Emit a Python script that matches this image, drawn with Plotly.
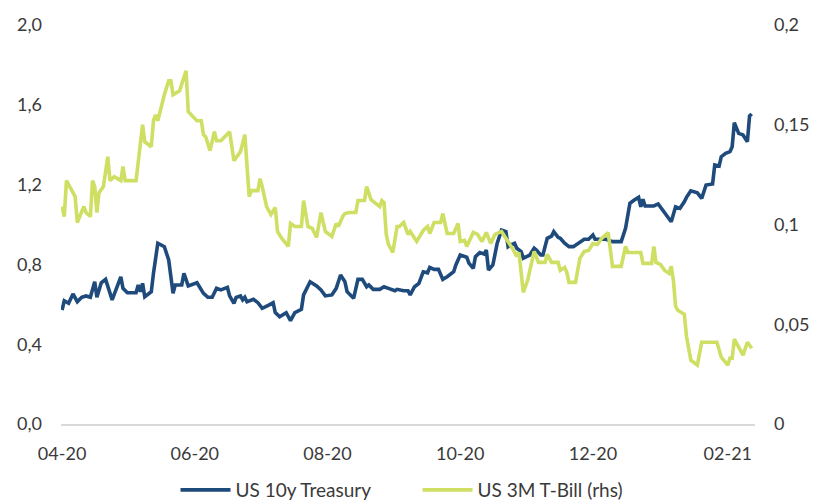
import plotly.graph_objects as go

# ---------------- data ----------------
t10_dates = [
    "2020-04-01", "2020-04-02", "2020-04-04", "2020-04-06", "2020-04-08", "2020-04-10", "2020-04-12",
    "2020-04-14", "2020-04-16", "2020-04-17", "2020-04-19", "2020-04-21", "2020-04-24", "2020-04-28",
    "2020-04-29", "2020-05-01", "2020-05-05", "2020-05-06", "2020-05-07", "2020-05-08", "2020-05-09",
    "2020-05-12", "2020-05-13", "2020-05-15", "2020-05-18", "2020-05-20", "2020-05-22", "2020-05-23",
    "2020-05-26", "2020-05-27", "2020-05-29", "2020-06-02", "2020-06-05", "2020-06-07", "2020-06-09",
    "2020-06-11", "2020-06-13", "2020-06-16", "2020-06-17", "2020-06-19", "2020-06-20", "2020-06-22",
    "2020-06-23", "2020-06-24", "2020-06-25", "2020-06-28", "2020-06-30", "2020-07-02", "2020-07-05",
    "2020-07-07", "2020-07-08", "2020-07-10", "2020-07-13", "2020-07-15", "2020-07-17", "2020-07-20",
    "2020-07-21", "2020-07-24", "2020-07-27", "2020-07-29", "2020-07-31", "2020-08-03", "2020-08-05",
    "2020-08-07", "2020-08-09", "2020-08-10", "2020-08-13", "2020-08-15", "2020-08-17", "2020-08-19",
    "2020-08-20", "2020-08-22", "2020-08-25", "2020-08-27", "2020-08-29", "2020-09-01", "2020-09-02",
    "2020-09-05", "2020-09-07", "2020-09-08", "2020-09-10", "2020-09-12", "2020-09-14", "2020-09-16",
    "2020-09-17", "2020-09-19", "2020-09-21", "2020-09-23", "2020-09-25", "2020-09-28", "2020-09-29",
    "2020-10-01", "2020-10-04", "2020-10-05", "2020-10-07", "2020-10-08", "2020-10-10", "2020-10-12",
    "2020-10-13", "2020-10-14", "2020-10-16", "2020-10-18", "2020-10-20", "2020-10-22", "2020-10-23",
    "2020-10-24", "2020-10-26", "2020-10-27", "2020-10-29", "2020-10-30", "2020-11-02", "2020-11-04",
    "2020-11-05", "2020-11-07", "2020-11-08", "2020-11-10", "2020-11-12", "2020-11-13", "2020-11-15",
    "2020-11-16", "2020-11-18", "2020-11-20", "2020-11-22", "2020-11-25", "2020-11-27", "2020-11-29",
    "2020-12-01", "2020-12-02", "2020-12-05", "2020-12-07", "2020-12-10", "2020-12-14", "2020-12-16",
    "2020-12-17", "2020-12-18", "2020-12-20", "2020-12-22", "2020-12-23", "2020-12-24", "2020-12-25",
    "2020-12-29", "2020-12-31", "2021-01-02", "2021-01-04", "2021-01-06", "2021-01-08", "2021-01-10",
    "2021-01-12", "2021-01-13", "2021-01-15", "2021-01-18", "2021-01-20", "2021-01-21", "2021-01-22",
    "2021-01-25", "2021-01-26", "2021-01-28", "2021-01-29", "2021-01-31", "2021-02-02", "2021-02-03",
    "2021-02-04", "2021-02-06", "2021-02-08", "2021-02-10", "2021-02-11", "2021-02-12",
]
t10_vals = [
    0.571, 0.618, 0.605, 0.652, 0.613, 0.635, 0.642,
    0.635, 0.713, 0.635, 0.708, 0.725, 0.622, 0.738,
    0.680, 0.658, 0.658, 0.697, 0.663, 0.705, 0.638,
    0.663, 0.755, 0.906, 0.889, 0.822, 0.655, 0.697,
    0.697, 0.755, 0.692, 0.708, 0.655, 0.635, 0.635,
    0.680, 0.672, 0.685, 0.642, 0.605, 0.635, 0.642,
    0.622, 0.635, 0.613, 0.625, 0.608, 0.580, 0.596,
    0.608, 0.558, 0.538, 0.558, 0.518, 0.558, 0.575,
    0.647, 0.713, 0.692, 0.672, 0.642, 0.647, 0.680,
    0.747, 0.713, 0.663, 0.630, 0.725, 0.725, 0.688,
    0.697, 0.675, 0.675, 0.688, 0.680, 0.668, 0.675,
    0.668, 0.668, 0.647, 0.688, 0.705, 0.763, 0.758,
    0.785, 0.775, 0.775, 0.725, 0.738, 0.763, 0.797,
    0.847, 0.836, 0.806, 0.780, 0.839, 0.859, 0.852,
    0.872, 0.772, 0.797, 0.906, 0.972, 0.964, 0.889,
    0.897, 0.906, 0.881, 0.864, 0.831, 0.847, 0.881,
    0.872, 0.847, 0.847, 0.931, 0.942, 0.964, 0.936,
    0.931, 0.906, 0.889, 0.889, 0.914, 0.926, 0.926,
    0.947, 0.926, 0.926, 0.926, 0.914, 0.914, 0.981,
    1.056, 1.106, 1.123, 1.136, 1.089, 1.126, 1.093,
    1.093, 1.103, 1.073, 1.039, 1.014, 1.089, 1.081,
    1.114, 1.136, 1.169, 1.159, 1.131, 1.173, 1.198,
    1.203, 1.298, 1.293, 1.340, 1.357, 1.365, 1.390,
    1.510, 1.457, 1.449, 1.415, 1.544, 1.554,
]

tbill_dates = [
    "2020-04-01", "2020-04-02", "2020-04-03", "2020-04-05", "2020-04-07", "2020-04-08", "2020-04-11",
    "2020-04-12", "2020-04-14", "2020-04-15", "2020-04-16", "2020-04-17", "2020-04-18", "2020-04-20",
    "2020-04-22", "2020-04-23", "2020-04-25", "2020-04-28", "2020-04-29", "2020-04-30", "2020-05-05",
    "2020-05-08", "2020-05-09", "2020-05-12", "2020-05-13", "2020-05-14", "2020-05-15", "2020-05-18",
    "2020-05-20", "2020-05-21", "2020-05-22", "2020-05-25", "2020-05-28", "2020-05-29", "2020-05-31",
    "2020-06-02", "2020-06-04", "2020-06-05", "2020-06-06", "2020-06-08", "2020-06-10", "2020-06-11",
    "2020-06-13", "2020-06-17", "2020-06-19", "2020-06-22", "2020-06-24", "2020-06-26", "2020-06-27",
    "2020-06-30", "2020-07-01", "2020-07-02", "2020-07-04", "2020-07-06", "2020-07-08", "2020-07-09",
    "2020-07-11", "2020-07-14", "2020-07-15", "2020-07-17", "2020-07-20", "2020-07-21", "2020-07-23",
    "2020-07-25", "2020-07-27", "2020-07-29", "2020-07-31", "2020-08-03", "2020-08-05", "2020-08-06",
    "2020-08-08", "2020-08-09", "2020-08-11", "2020-08-14", "2020-08-15", "2020-08-18", "2020-08-19",
    "2020-08-20", "2020-08-21", "2020-08-25", "2020-08-26", "2020-08-27", "2020-08-28", "2020-08-29",
    "2020-08-31", "2020-09-02", "2020-09-03", "2020-09-05", "2020-09-07", "2020-09-08", "2020-09-11",
    "2020-09-14", "2020-09-16", "2020-09-17", "2020-09-19", "2020-09-22", "2020-09-23", "2020-09-25",
    "2020-09-28", "2020-09-30", "2020-10-01", "2020-10-03", "2020-10-04", "2020-10-07", "2020-10-09",
    "2020-10-11", "2020-10-13", "2020-10-15", "2020-10-17", "2020-10-20", "2020-10-23", "2020-10-25",
    "2020-10-27", "2020-10-28", "2020-10-30", "2020-11-01", "2020-11-02", "2020-11-04", "2020-11-06",
    "2020-11-09", "2020-11-10", "2020-11-12", "2020-11-15", "2020-11-16", "2020-11-18", "2020-11-19",
    "2020-11-20", "2020-11-23", "2020-11-25", "2020-11-27", "2020-11-29", "2020-12-01", "2020-12-03",
    "2020-12-05", "2020-12-08", "2020-12-10", "2020-12-14", "2020-12-16", "2020-12-17", "2020-12-23",
    "2020-12-24", "2020-12-28", "2020-12-29", "2020-12-30", "2021-01-01", "2021-01-03", "2021-01-05",
    "2021-01-06", "2021-01-07", "2021-01-08", "2021-01-09", "2021-01-12", "2021-01-13", "2021-01-15",
    "2021-01-18", "2021-01-20", "2021-01-27", "2021-01-29", "2021-02-01", "2021-02-02", "2021-02-03",
    "2021-02-04", "2021-02-06", "2021-02-08", "2021-02-10", "2021-02-11", "2021-02-12",
]
tbill_vals = [
    0.109, 0.104, 0.122, 0.118, 0.114, 0.101, 0.109,
    0.106, 0.104, 0.122, 0.119, 0.106, 0.116, 0.119,
    0.134, 0.122, 0.124, 0.122, 0.129, 0.122, 0.122,
    0.150, 0.1415, 0.139, 0.152, 0.155, 0.152, 0.165,
    0.172, 0.172, 0.165, 0.167, 0.177, 0.1565, 0.154,
    0.152, 0.152, 0.145, 0.144, 0.137, 0.1465, 0.142,
    0.142, 0.1465, 0.132, 0.1365, 0.145, 0.114, 0.117,
    0.117, 0.123, 0.119, 0.109, 0.105, 0.1085, 0.0965,
    0.093, 0.089, 0.1005, 0.099, 0.099, 0.112, 0.099,
    0.098, 0.0935, 0.106, 0.0965, 0.094, 0.1005, 0.099,
    0.104, 0.1055, 0.106, 0.106, 0.112, 0.112, 0.119,
    0.115, 0.1125, 0.109, 0.112, 0.111, 0.095, 0.090,
    0.086, 0.099, 0.099, 0.101, 0.095, 0.0965, 0.0915,
    0.097, 0.099, 0.0955, 0.101, 0.101, 0.1055, 0.0955,
    0.0955, 0.1005, 0.0915, 0.092, 0.089, 0.096, 0.095,
    0.0915, 0.096, 0.0905, 0.095, 0.0965, 0.0915, 0.088,
    0.084, 0.086, 0.066, 0.072, 0.077, 0.0865, 0.081,
    0.081, 0.085, 0.081, 0.081, 0.077, 0.0785, 0.076,
    0.071, 0.071, 0.083, 0.0865, 0.087, 0.0905, 0.090,
    0.093, 0.096, 0.079, 0.079, 0.089, 0.086, 0.086,
    0.0805, 0.0805, 0.089, 0.081, 0.080, 0.077, 0.0755,
    0.079, 0.072, 0.059, 0.057, 0.055, 0.044, 0.032,
    0.0295, 0.041, 0.041, 0.0335, 0.0295, 0.033, 0.033,
    0.0425, 0.0385, 0.0345, 0.041, 0.0395, 0.038,
]

series_names = ["US 10y Treasury", "US 3M T-Bill (rhs)"]

# ---------------- figure ----------------
BLUE = "#1e4a7c"
GREEN = "#cfdf63"
TEXT = "#3a3a3a"
FONT = "Lato"

fig = go.Figure()
fig.add_trace(go.Scatter(
    x=t10_dates, y=t10_vals, name=series_names[0], mode="lines",
    line=dict(color=BLUE, width=3.6), yaxis="y",
))
fig.add_trace(go.Scatter(
    x=tbill_dates, y=tbill_vals, name=series_names[1], mode="lines",
    line=dict(color=GREEN, width=3.6), yaxis="y2",
))

fig.update_layout(
    width=815, height=503,
    margin=dict(l=61, r=60, t=25, b=79, autoexpand=False),
    paper_bgcolor="white", plot_bgcolor="white",
    separators=", ",
    font=dict(family=FONT, size=18, color=TEXT),
    showlegend=True,
    legend=dict(
        orientation="h", x=0.165, xanchor="left", xref="paper",
        y=0.0636, yanchor="top", yref="container",
        font=dict(family=FONT, size=19, color=TEXT),
        itemwidth=50, entrywidth=177, entrywidthmode="pixels",
        traceorder="normal", bgcolor="rgba(0,0,0,0)",
    ),
    xaxis=dict(
        type="date",
        range=["2020-03-31 12:00", "2021-02-13 12:00"],
        tick0="2020-04-01", dtick="M2", tickformat="%m-%y",
        showgrid=False, zeroline=False,
        showline=True, linecolor="#d9d9d9", linewidth=2,
        ticks="", ticklabelstandoff=12,
        tickfont=dict(family=FONT, size=18, color=TEXT),
    ),
    yaxis=dict(
        range=[0, 2.0], dtick=0.4, tickformat=".1f",
        showgrid=False, zeroline=False, showline=False,
        ticks="", ticklabelstandoff=18,
        tickfont=dict(family=FONT, size=18, color=TEXT),
    ),
    yaxis2=dict(
        range=[0, 0.2], dtick=0.05, overlaying="y", side="right",
        showgrid=False, zeroline=False, showline=False,
        ticks="", ticklabelstandoff=18,
        tickfont=dict(family=FONT, size=18, color=TEXT),
    ),
)

fig.write_html("out.html")
